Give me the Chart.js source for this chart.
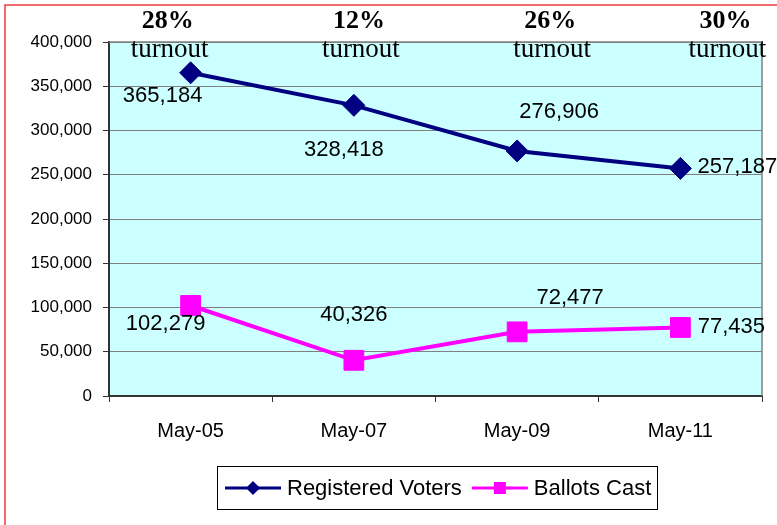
<!DOCTYPE html>
<html>
<head>
<meta charset="utf-8">
<script src="https://cdn.jsdelivr.net/npm/chart.js@4/dist/chart.umd.min.js"></script>
<style>
    html, body { margin: 0; padding: 0; background: #fff; }
    #wrap { width: 777px; height: 525px; }
</style>
</head>
<body>
<div id="wrap"><canvas id="turnoutChart" width="777" height="525"></canvas></div>
<script>
// Chart data
const periods = ['May-05', 'May-07', 'May-09', 'May-11'];
const registeredVoters = [365184, 328418, 276906, 257187];
const ballotsCast = [102279, 40326, 72477, 77435];
const turnoutPct = ['28%', '12%', '26%', '30%'];
const yMin = 0;
const yMax = 400000;
const yStep = 50000;

// Label placement relative to each point (dx, dy in px) - hand tuned
const regLabelOffsets = [[-28, 23], [-10, 45], [42, -39], [57, -1]];
const ballotLabelOffsets = [[-25, 18], [0, -45], [53, -34], [51, -1]];
// Turnout text offsets relative to category centre
const turnoutOffsets = [-21, 7, 35, 47];

const SANS = "'Liberation Sans', Arial, sans-serif";
const SERIF = "'Liberation Serif', 'Times New Roman', serif";

const fmt = v => v.toLocaleString('en-US');

const framePlugin = {
    id: 'frame',
    beforeDraw(chart) {
        const { ctx, chartArea: a, width, height } = chart;
        ctx.save();
        ctx.fillStyle = '#ffffff';
        ctx.fillRect(0, 0, width, height);
        ctx.fillStyle = '#ccffff';
        ctx.fillRect(a.left, a.top, a.right - a.left, a.bottom - a.top);
        // red outer border (left + top visible)
        ctx.strokeStyle = '#ee3b3b';
        ctx.lineWidth = 1.5;
        ctx.beginPath();
        ctx.moveTo(5, height);
        ctx.lineTo(5, 5);
        ctx.lineTo(width, 5);
        ctx.stroke();
        ctx.restore();
    },
    beforeDatasetsDraw(chart) {
        const { ctx, chartArea: a } = chart;
        ctx.save();
        ctx.strokeStyle = '#808080';
        ctx.lineWidth = 1.5;
        ctx.beginPath();
        ctx.moveTo(a.left, a.top);
        ctx.lineTo(a.right, a.top);
        ctx.lineTo(a.right, a.bottom);
        ctx.stroke();
        ctx.restore();
    }
};

const labelPlugin = {
    id: 'pointLabels',
    afterDatasetsDraw(chart) {
        const { ctx } = chart;
        const offsets = [regLabelOffsets, ballotLabelOffsets];
        ctx.save();
        ctx.font = '22px ' + SANS;
        ctx.fillStyle = '#000';
        ctx.textAlign = 'center';
        ctx.textBaseline = 'middle';
        chart.data.datasets.forEach((ds, i) => {
            chart.getDatasetMeta(i).data.forEach((pt, j) => {
                const [dx, dy] = offsets[i][j];
                ctx.fillText(fmt(ds.data[j]), pt.x + dx, pt.y + dy);
            });
        });

        // turnout annotations above the plot
        const xs = chart.scales.x;
        turnoutPct.forEach((t, j) => {
            const cx = xs.getPixelForValue(j) + turnoutOffsets[j];
            ctx.font = 'bold 26px ' + SERIF;
            ctx.fillText(t, cx - 2, 21);
            ctx.font = '27px ' + SERIF;
            ctx.fillText('turnout', cx, 50);
        });
        ctx.restore();
    },
    afterDraw(chart) {
        // legend box at the bottom
        const { ctx } = chart;
        const box = { x: 217, y: 466, w: 440, h: 43 };
        ctx.save();
        ctx.strokeStyle = '#000';
        ctx.lineWidth = 1;
        ctx.strokeRect(box.x + 0.5, box.y + 0.5, box.w, box.h);
        ctx.font = '22px ' + SANS;
        ctx.textBaseline = 'middle';
        let x = box.x + 8;
        const cy = box.y + box.h / 2 + 0.5;
        chart.data.datasets.forEach(ds => {
            ctx.strokeStyle = ds.borderColor;
            ctx.fillStyle = ds.borderColor;
            ctx.lineWidth = 3;
            ctx.beginPath();
            ctx.moveTo(x, cy);
            ctx.lineTo(x + 56, cy);
            ctx.stroke();
            const mx = x + 28;
            if (ds.pointStyle === 'rectRot') {
                ctx.beginPath();
                ctx.moveTo(mx, cy - 7);
                ctx.lineTo(mx + 7, cy);
                ctx.lineTo(mx, cy + 7);
                ctx.lineTo(mx - 7, cy);
                ctx.closePath();
                ctx.fill();
            } else {
                ctx.fillRect(mx - 6, cy - 6, 12, 12);
            }
            ctx.fillStyle = '#000';
            ctx.fillText(ds.label, x + 62, cy + 1);
            x += 62 + ctx.measureText(ds.label).width + 10;
        });
        ctx.restore();
    }
};

const chart = new Chart(document.getElementById('turnoutChart'), {
    type: 'line',
    data: {
        labels: periods,
        datasets: [
            {
                label: 'Registered Voters',
                data: registeredVoters,
                borderColor: '#000080',
                backgroundColor: '#000080',
                borderWidth: 4,
                pointStyle: 'rectRot',
                pointRadius: 11,
                pointBorderWidth: 1,
                tension: 0
            },
            {
                label: 'Ballots Cast',
                data: ballotsCast,
                borderColor: '#ff00ff',
                backgroundColor: '#ff00ff',
                borderWidth: 4,
                pointStyle: 'rect',
                pointRadius: 14,
                pointBorderWidth: 1,
                tension: 0
            }
        ]
    },
    options: {
        responsive: false,
        devicePixelRatio: 1,
        animation: false,
        layout: { padding: { top: 42, right: 13, left: 0, bottom: 0 } },
        plugins: {
            legend: { display: false },
            tooltip: { enabled: false }
        },
        scales: {
            x: {
                offset: true,
                grid: {
                    offset: true,
                    drawOnChartArea: false,
                    drawTicks: true,
                    tickLength: 6,
                    color: '#333'
                },
                border: { color: '#333', width: 2 },
                ticks: { color: '#000', font: { family: SANS, size: 20 }, padding: 17 },
                afterFit: s => { s.height = 129; }
            },
            y: {
                min: yMin,
                max: yMax,
                ticks: {
                    stepSize: yStep,
                    color: '#000',
                    font: { family: SANS, size: 17 },
                    padding: 11,
                    callback: v => fmt(v)
                },
                grid: { color: '#808080', tickColor: '#333', tickLength: 6 },
                border: { color: '#333', width: 2 },
                afterFit: s => { s.width = 109; }
            }
        }
    },
    plugins: [framePlugin, labelPlugin]
});
</script>
</body>
</html>
